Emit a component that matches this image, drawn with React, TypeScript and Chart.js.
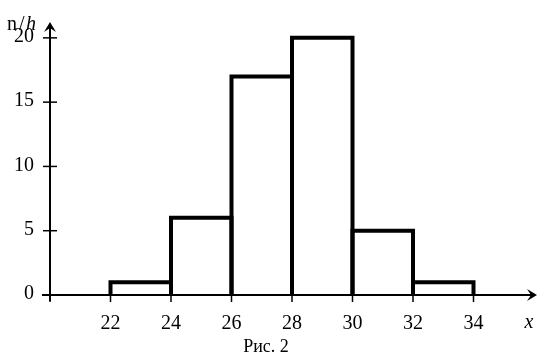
import React, { useEffect, useRef } from "react";
import { Chart, registerables } from "chart.js";

Chart.register(...registerables);

// Histogram data
const binStarts = [22, 24, 26, 28, 30, 32];
const binEnds = [24, 26, 28, 30, 32, 34];
const frequencies = [1, 6, 17, 20, 5, 1];

// Axis ticks
const xTickValues = [20, 22, 24, 26, 28, 30, 32, 34];
const xTickLabels = ["", "22", "24", "26", "28", "30", "32", "34"];
const yTickValues = [0, 5, 10, 15, 20];
const yTickLabels = ["0", "5", "10", "15", "20"];

const yAxisTitle = { n: "n", slash: "/", h: "h" };
const xAxisTitle = "x";
const caption = "Рис. 2";

const FONT = '"Liberation Serif", "Times New Roman", serif';

const drawPlugin = {
  id: "histDraw",
  afterDatasetsDraw(chart: any) {
    const ctx = chart.ctx;
    const xs = chart.scales.x;
    const ys = chart.scales.y;
    const meta = chart.getDatasetMeta(0);
    ctx.save();
    // bar outlines (top, left, right)
    ctx.strokeStyle = "#000";
    ctx.lineWidth = 4;
    ctx.lineJoin = "miter";
    meta.data.forEach((bar: any) => {
      const p = bar.getProps(["x", "y", "base", "width"], true);
      const l = p.x - p.width / 2;
      const r = p.x + p.width / 2;
      ctx.beginPath();
      ctx.moveTo(l, p.base);
      ctx.lineTo(l, p.y);
      ctx.lineTo(r, p.y);
      ctx.lineTo(r, p.base);
      ctx.stroke();
    });

    const x0 = xs.getPixelForValue(xs.min);
    const y0 = ys.getPixelForValue(0);
    const xTip = xs.right + 3;
    const yTip = ys.top - 3;

    // axes
    ctx.lineWidth = 2;
    ctx.beginPath();
    ctx.moveTo(x0 - 8, y0);
    ctx.lineTo(xTip - 4, y0);
    ctx.moveTo(x0, y0 + 6);
    ctx.lineTo(x0, yTip + 4);
    ctx.stroke();

    // arrowheads
    ctx.fillStyle = "#000";
    ctx.beginPath();
    ctx.moveTo(x0, yTip);
    ctx.lineTo(x0 - 6, yTip + 10);
    ctx.lineTo(x0, yTip + 6);
    ctx.lineTo(x0 + 6, yTip + 10);
    ctx.closePath();
    ctx.fill();
    ctx.beginPath();
    ctx.moveTo(xTip, y0);
    ctx.lineTo(xTip - 10, y0 - 6);
    ctx.lineTo(xTip - 6, y0);
    ctx.lineTo(xTip - 10, y0 + 6);
    ctx.closePath();
    ctx.fill();

    // y ticks
    ctx.lineWidth = 1.5;
    yTickValues.forEach((v) => {
      if (v === 0) return;
      const py = ys.getPixelForValue(v);
      ctx.beginPath();
      ctx.moveTo(x0 - 7, py);
      ctx.lineTo(x0 + 7, py);
      ctx.stroke();
    });
    // x ticks
    xTickValues.forEach((v) => {
      const px = xs.getPixelForValue(v);
      ctx.beginPath();
      ctx.moveTo(px, y0);
      ctx.lineTo(px, y0 + 7);
      ctx.stroke();
    });

    // labels
    ctx.fillStyle = "#000";
    ctx.font = `20px ${FONT}`;
    ctx.textAlign = "right";
    ctx.textBaseline = "middle";
    yTickValues.forEach((v, i) => {
      ctx.fillText(yTickLabels[i], x0 - 16, ys.getPixelForValue(v) - 1);
    });
    ctx.textAlign = "center";
    ctx.textBaseline = "alphabetic";
    xTickValues.forEach((v, i) => {
      if (!xTickLabels[i]) return;
      ctx.fillText(xTickLabels[i], xs.getPixelForValue(v), y0 + 34);
    });

    // axis titles
    ctx.font = `italic 20px ${FONT}`;
    ctx.fillText(xAxisTitle, xTip - 8, y0 + 33);
    ctx.textAlign = "left";
    ctx.font = `20px ${FONT}`;
    ctx.fillText(yAxisTitle.n, 7, 30);
    ctx.fillText(yAxisTitle.slash, 19, 30);
    ctx.font = `italic 20px ${FONT}`;
    ctx.fillText(yAxisTitle.h, 26, 30);

    // caption
    ctx.font = `18px ${FONT}`;
    ctx.textAlign = "center";
    ctx.fillText(caption, 266, 352);
    ctx.restore();
  },
};

export default function App() {
  const ref = useRef<HTMLCanvasElement | null>(null);
  useEffect(() => {
    if (!ref.current) return;
    const data = binStarts.map((s, i) => ({ x: (s + binEnds[i]) / 2, y: frequencies[i] }));
    const chart = new Chart(ref.current, {
      type: "bar",
      data: {
        datasets: [
          {
            data: data as any,
            backgroundColor: "#fff",
            borderWidth: 0,
            barPercentage: 1,
            categoryPercentage: 1,
          },
        ],
      },
      options: {
        animation: false,
        responsive: false,
        devicePixelRatio: 1,
        layout: { padding: { left: 50, right: 7, top: 25, bottom: 62 } },
        plugins: { legend: { display: false }, tooltip: { enabled: false } },
        scales: {
          x: { type: "linear", min: 20, max: 36, display: false, offset: false },
          y: { type: "linear", min: 0, max: 21, display: false },
        },
      },
      plugins: [drawPlugin],
    });
    return () => chart.destroy();
  }, []);
  return (
    <div style={{ position: "fixed", left: 0, top: 0, width: 541, height: 357, background: "#fff" }}>
      <canvas ref={ref} width={541} height={357} />
    </div>
  );
}
